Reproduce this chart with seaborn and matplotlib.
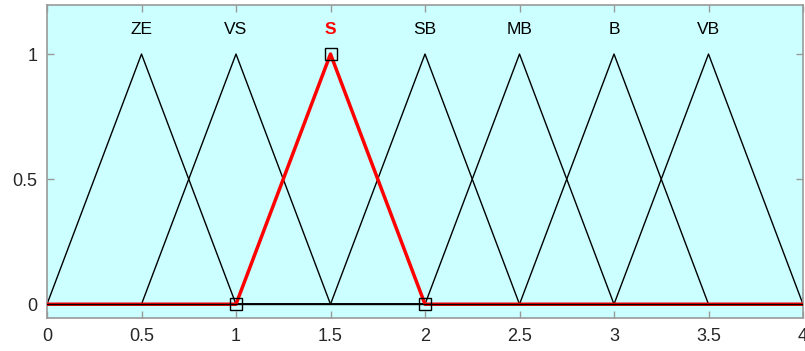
import matplotlib
matplotlib.use("Agg")
import matplotlib.pyplot as plt
import seaborn as sns
import pandas as pd

# Data: triangular membership functions (left, peak, right)
names = ["ZE", "VS", "S", "SB", "MB", "B", "VB"]
lefts = [0.0, 0.5, 1.0, 1.5, 2.0, 2.5, 3.0]
peaks = [0.5, 1.0, 1.5, 2.0, 2.5, 3.0, 3.5]
rights = [1.0, 1.5, 2.0, 2.5, 3.0, 3.5, 4.0]
x_min, x_max = 0.0, 4.0
highlight = "S"
xticks = [0, 0.5, 1, 1.5, 2, 2.5, 3, 3.5, 4]
xticklabels = ["0", "0.5", "1", "1.5", "2", "2.5", "3", "3.5", "4"]
yticks = [0, 0.5, 1]
yticklabels = ["0", "0.5", "1"]

rows = []
for n, a, b, c in zip(names, lefts, peaks, rights):
    xs = [x_min, a, b, c, x_max]
    ys = [0, 0, 1, 0, 0]
    for i, (xx, yy) in enumerate(zip(xs, ys)):
        rows.append({"mf": n, "x": xx, "y": yy, "order": i})
df = pd.DataFrame(rows)

sns.set_style("white")
plt.rcParams["font.family"] = ["Liberation Sans", "DejaVu Sans"]

fig = plt.figure(figsize=(8.05, 3.51), dpi=100)
ax = fig.add_axes([47 / 805, 33 / 351, 756 / 805, 313 / 351])
ax.set_facecolor("#ccffff")

for n in names:
    sub = df[df.mf == n].sort_values("order")
    if n == highlight:
        continue
    sns.lineplot(data=sub, x="x", y="y", ax=ax, color="black", lw=1.0,
                 sort=False, estimator=None, legend=False)
sub = df[df.mf == highlight].sort_values("order")
sns.lineplot(data=sub, x="x", y="y", ax=ax, color="red", lw=2.5,
             sort=False, estimator=None, legend=False, zorder=3)
ax.plot([x_min, x_max], [0, 0], color="black", lw=1.0, zorder=4)

hi = names.index(highlight)
ax.plot([lefts[hi], peaks[hi], rights[hi]], [0, 1, 0], linestyle="none",
        marker="s", markersize=8, markerfacecolor="none",
        markeredgecolor="black", markeredgewidth=1.0, zorder=5, clip_on=False)

for n, b in zip(names, peaks):
    ax.text(b, 1.1, n, ha="center", va="center", fontsize=12.5,
            color="red" if n == highlight else "black",
            fontweight="bold" if n == highlight else "normal")

ax.set_xlim(x_min, x_max)
ax.set_ylim(-0.055, 1.196)
ax.set_xticks(xticks)
ax.set_xticklabels(xticklabels)
ax.set_yticks(yticks)
ax.set_yticklabels(yticklabels)
ax.set_xlabel("")
ax.set_ylabel("")
ax.tick_params(direction="in", length=5, width=1, color="#999999",
               labelsize=13, top=True, right=True, bottom=True, left=True, pad=7)
for s in ax.spines.values():
    s.set_visible(True)
    s.set_color("#999999")
    s.set_linewidth(1.2)

fig.savefig("out.png", dpi=100, facecolor="white")
